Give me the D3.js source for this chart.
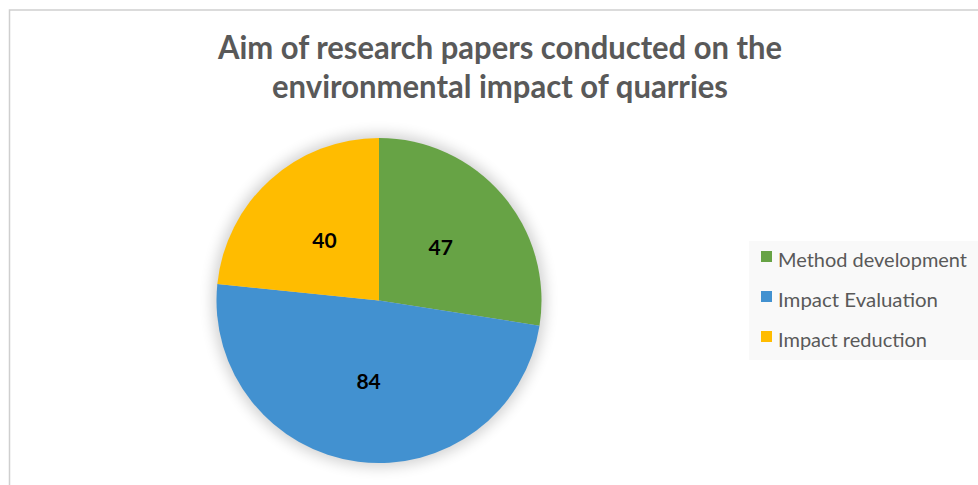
<!DOCTYPE html>
<html><head><meta charset="utf-8">
<script src="https://cdn.jsdelivr.net/npm/d3@7"></script>
<style>html,body{margin:0;padding:0;background:#fff;}svg{display:block;}</style>
</head><body>
<svg id="chart" width="978" height="485"></svg>
<script>
const categories = ["Method development", "Impact Evaluation", "Impact reduction"];
const values = [47, 84, 40];
const colors = ["#67A345", "#4291D0", "#FFBC00"];
const titleLines = ["Aim of research papers conducted on the", "environmental impact of quarries"];

const svg = d3.select("#chart");

// chart border
svg.append("rect").attr("x", 9.5).attr("y", 10).attr("width", 990).attr("height", 500)
  .attr("fill", "#fff").attr("stroke", "#cfcfcf").attr("stroke-width", 1.5);

// title
const title = svg.append("text").attr("text-anchor", "middle")
  .attr("font-family", "Lato, 'Open Sans', sans-serif").attr("font-weight", "bold")
  .attr("font-size", 33).attr("fill", "#595959");
const titleWidths = [564, 456];
titleLines.forEach((t, i) => {
  title.append("tspan").attr("x", 500).attr("y", 59 + i * 39).text(t)
    .attr("textLength", titleWidths[i]).attr("lengthAdjust", "spacingAndGlyphs");
});

// pie
const cx = 379, cy = 300.5, R = 162.5;
const defs = svg.append("defs");
const f = defs.append("filter").attr("id", "glow").attr("x", "-30%").attr("y", "-30%").attr("width", "160%").attr("height", "160%");
f.append("feGaussianBlur").attr("stdDeviation", 7);

const g = svg.append("g").attr("transform", `translate(${cx},${cy})`);
g.append("circle").attr("r", R + 4).attr("fill", "#000").attr("opacity", 0.18).attr("filter", "url(#glow)");

const pie = d3.pie().sort(null).value(d => d)(values);
const arc = d3.arc().innerRadius(0).outerRadius(R);
const labelArc = d3.arc().innerRadius(R * 0.5).outerRadius(R * 0.5);

g.selectAll("path.slice").data(pie).enter().append("path")
  .attr("class", "slice").attr("d", arc).attr("fill", (d, i) => colors[i]);

g.selectAll("text.lbl").data(pie).enter().append("text")
  .attr("class", "lbl")
  .attr("transform", d => `translate(${labelArc.centroid(d)})`)
  .attr("text-anchor", "middle").attr("dy", "0.36em")
  .attr("font-family", "Lato, 'Open Sans', sans-serif").attr("font-weight", "bold")
  .attr("font-size", 21).attr("fill", "#000")
  .text(d => d.data);

// legend
const lg = svg.append("g");
lg.append("rect").attr("x", 749).attr("y", 241).attr("width", 240).attr("height", 119).attr("fill", "#f9f9f9");
const legendWidths = [189, 160, 149];
categories.forEach((c, i) => {
  const y = 267 + i * 40;
  lg.append("rect").attr("x", 761).attr("y", y - 16).attr("width", 11).attr("height", 11).attr("fill", colors[i]);
  lg.append("text").attr("x", 778).attr("y", y)
    .attr("font-family", "Lato, 'Open Sans', sans-serif").attr("font-size", 20).attr("fill", "#595959")
    .attr("textLength", legendWidths[i]).attr("lengthAdjust", "spacingAndGlyphs")
    .text(c);
});
</script>
</body></html>
